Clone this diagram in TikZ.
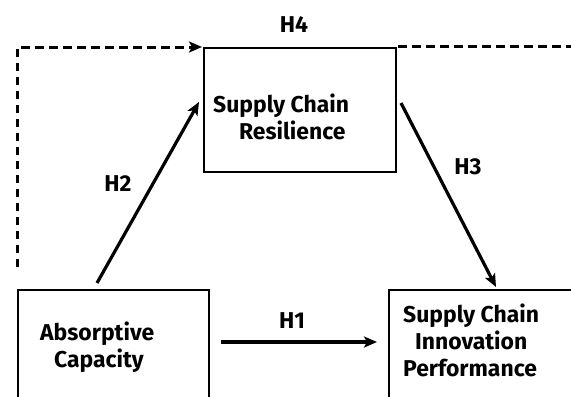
\documentclass[tikz,border=0pt]{standalone}
\usepackage{fontspec}
\setmainfont{Fira Sans}
\usetikzlibrary{arrows.meta}

\begin{document}
\begin{tikzpicture}[x=1bp,y=-1bp,
    box/.style={draw,line width=1.6bp,inner sep=0pt,anchor=north west},
    boxtext/.style={font=\bfseries\fontsize{23}{27}\selectfont,align=left,inner sep=0pt,anchor=base west},
    hyp/.style={font=\bfseries\fontsize{23}{27}\selectfont,inner sep=0pt},
    arr/.style={line width=3.2bp,-{Stealth[length=13bp,width=11bp,inset=3bp]}},
    dashline/.style={line width=3bp,dash pattern=on 8.5bp off 5.5bp}]

    \useasboundingbox (0,0) rectangle (571,396);
    \clip (0,0) rectangle (571,396);

    % the three constructs
    \node[box,minimum width=192bp,minimum height=124bp] (scr) at (203,47) {};
    \node[box,minimum width=191bp,minimum height=125bp] (ac) at (17,289) {};
    \node[box,minimum width=212bp,minimum height=125bp] (scip) at (388,289) {};

    % text sits on the baseline of its last line
    \node[boxtext] (scrtext) at (213,139) {Supply Chain\\\hspace*{26bp}Resilience};
    \node[boxtext] (actext) at (40,367) {Absorptive\\\hspace*{14bp}Capacity};
    \node[boxtext] (sciptext) at (403,376) {Supply Chain\\\hspace*{12bp}Innovation\\Performance};

    % ends of the paths
    \coordinate (h1a) at (221,342);
    \coordinate (h1b) at (377,342);
    \coordinate (h2a) at (97,283);
    \coordinate (h2b) at (199,102);
    \coordinate (h3a) at (401,103);
    \coordinate (h3b) at (496,287);
    \coordinate (h4a) at (17,267);
    \coordinate (h4c) at (17,47);
    \coordinate (h4b) at (202,47);
    \coordinate (h4d) at (398,46);
    \coordinate (h4e) at (580,46);

    \draw[arr] (h1a) -- (h1b);
    \draw[arr] (h2a) -- (h2b);
    \draw[arr] (h3a) -- (h3b);
    \draw[arr,dashline] (h4a) -- (h4c) -- (h4b);
    \draw[dashline] (h4d) -- (h4e);

    \node[hyp] (lh1) at (292,321) {H1};
    \node[hyp] (lh2) at (118,184) {H2};
    \node[hyp] (lh3) at (468,167) {H3};
    \node[hyp] (lh4) at (294,25) {H4};
\end{tikzpicture}
\end{document}
